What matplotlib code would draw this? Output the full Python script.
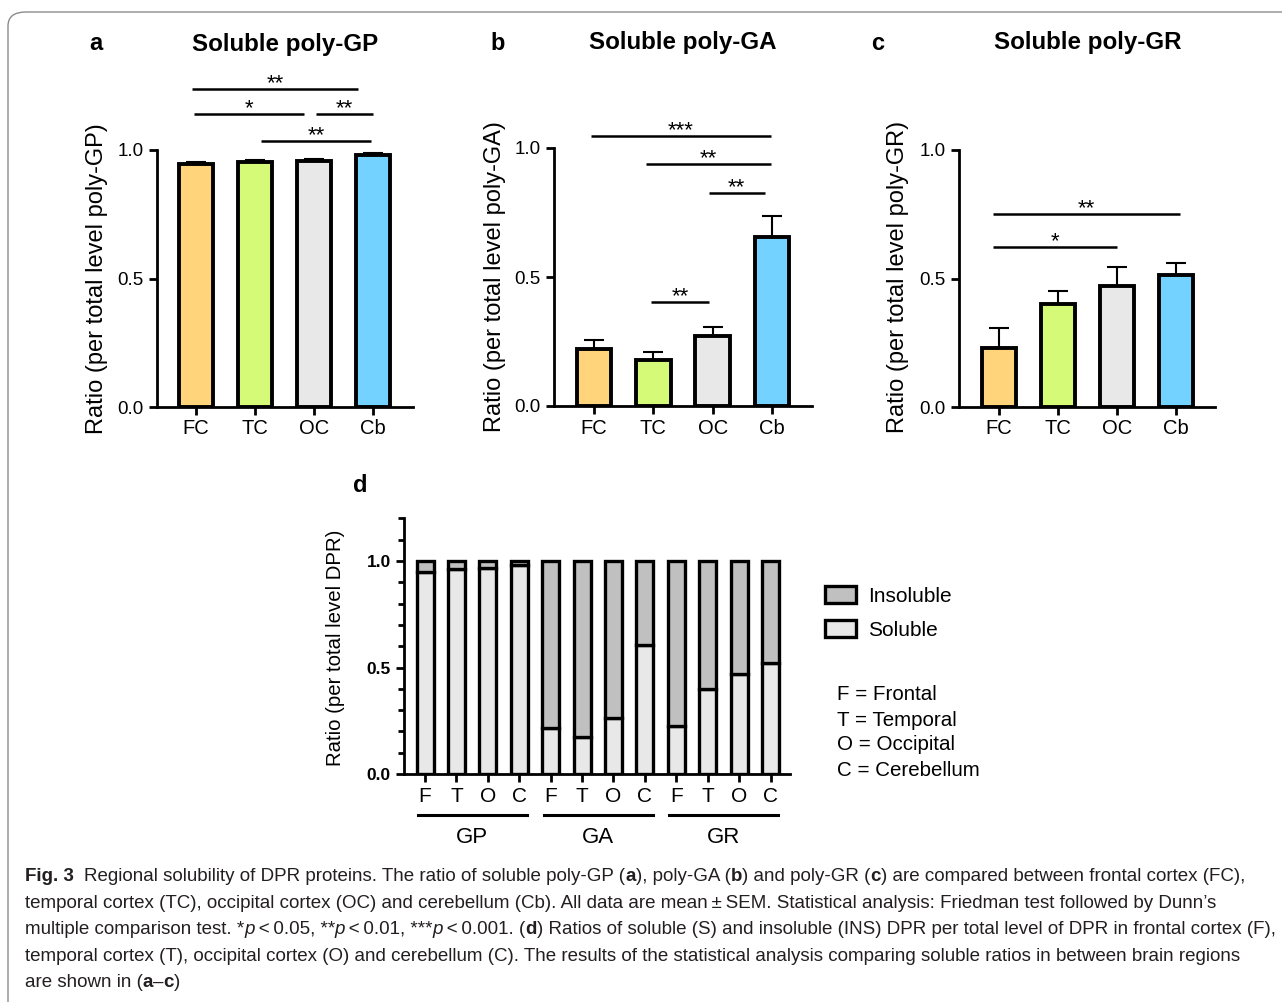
import numpy as np
import matplotlib
matplotlib.use('Agg')
import matplotlib.pyplot as plt
from matplotlib.patches import FancyBboxPatch

plt.rcParams['font.family'] = ['Liberation Sans', 'DejaVu Sans']

W, H = 1282, 1002

regions = ['FC', 'TC', 'OC', 'Cb']
bar_colors = ['#ffd47a', '#d5fa78', '#e8e8e8', '#73d2ff']

# soluble fraction, mean and SEM
gp_mean = [0.945, 0.954, 0.958, 0.980]
gp_sem = [0.008, 0.007, 0.006, 0.007]
ga_mean = [0.221, 0.178, 0.271, 0.655]
ga_sem = [0.035, 0.031, 0.035, 0.081]
gr_mean = [0.230, 0.400, 0.471, 0.514]
gr_sem = [0.077, 0.051, 0.074, 0.046]

# significance lines: (x start, x end, height, stars)
gp_sig = [(-0.07, 2.75, 1.237, '**'), (-0.03, 1.83, 1.14, '*'),
          (2.03, 3.0, 1.14, '**'), (1.1, 2.97, 1.035, '**')]
ga_sig = [(-0.05, 2.98, 1.047, '***'), (0.88, 2.98, 0.938, '**'),
          (1.93, 2.88, 0.826, '**'), (0.97, 1.93, 0.403, '**')]
gr_sig = [(-0.1, 3.07, 0.751, '**'), (-0.1, 2.0, 0.623, '*')]

# panel d
dpr_groups = ['GP', 'GA', 'GR']
dpr_regions = ['F', 'T', 'O', 'C']
dpr_soluble = [0.948, 0.962, 0.967, 0.981,
               0.216, 0.174, 0.263, 0.606,
               0.225, 0.399, 0.469, 0.521]
region_names = ['F = Frontal', 'T = Temporal', 'O = Occipital', 'C = Cerebellum']

fig = plt.figure(figsize=(W / 100, H / 100), dpi=100)


def fx(px):
    return px / W


def fy(py):
    return 1 - py / H


def make_axes(left, right, y0, ppu, ymax):
    return fig.add_axes([left / W, 1 - y0 / H, (right - left) / W, ppu * ymax / H])


def style_axes(ax):
    for s in ['top', 'right']:
        ax.spines[s].set_visible(False)
    for s in ['left', 'bottom']:
        ax.spines[s].set_linewidth(2.0)
    ax.tick_params(axis='both', width=2.0, length=6, color='black')


def soluble_panel(ax, means, sems, sig, xlim):
    x = np.arange(len(regions))
    ax.bar(x, means, width=0.58, color=bar_colors, edgecolor='black', linewidth=2.8, zorder=3)
    ax.errorbar(x, means, yerr=(np.zeros(len(sems)), sems), fmt='none', ecolor='black',
                elinewidth=1.5, capsize=7.5, capthick=1.5, zorder=2)
    ax.set_xlim(*xlim)
    ax.set_ylim(0, 1.32)
    style_axes(ax)
    ax.spines['left'].set_bounds(0, 1)
    ax.set_yticks([0, 0.5, 1.0])
    ax.set_yticklabels(['0.0', '0.5', '1.0'], fontsize=13.5)
    ax.set_xticks(x)
    ax.set_xticklabels(regions, fontsize=14.5)
    ax.tick_params(axis='x', pad=3)
    for x1, x2, y, s in sig:
        ax.plot([x1, x2], [y, y], color='black', lw=1.8, clip_on=False, solid_capstyle='butt')
        ax.annotate(s, xy=((x1 + x2) / 2, y), xytext=(0, 0.0), textcoords='offset points',
                    ha='center', va='baseline', fontsize=16, annotation_clip=False)


ax_a = make_axes(157, 413, 407, 257, 1.32)
soluble_panel(ax_a, gp_mean, gp_sem, gp_sig, (-0.66, 3.68))
ax_b = make_axes(554, 812, 406, 258, 1.32)
soluble_panel(ax_b, ga_mean, ga_sem, ga_sig, (-0.67, 3.67))
ax_c = make_axes(959, 1215, 407, 257, 1.32)
soluble_panel(ax_c, gr_mean, gr_sem, gr_sig, (-0.68, 3.66))

# panel titles, letters and y labels
for letter, lx, ly, title, tx, ty, ylab, yx, yy in [
        ('a', 96, 44, 'Soluble poly-GP', 285, 45, 'Ratio (per total level poly-GP)', 97, 279),
        ('b', 498, 43, 'Soluble poly-GA', 683, 42, 'Ratio (per total level poly-GA)', 495, 277),
        ('c', 878, 43, 'Soluble poly-GR', 1088, 43, 'Ratio (per total level poly-GR)', 898, 277)]:
    fig.text(fx(lx), fy(ly), letter, fontsize=17, fontweight='bold', ha='center', va='center')
    fig.text(fx(tx), fy(ty), title, fontsize=17.4, fontweight='bold', ha='center', va='center')
    fig.text(fx(yx), fy(yy), ylab, fontsize=17, rotation=90, ha='center', va='center')

# panel d: stacked soluble / insoluble
ax_d = make_axes(404, 790, 774, 213, 1.2)
xd = np.arange(len(dpr_soluble))
sol = np.array(dpr_soluble)
sol_bars = ax_d.bar(xd, sol, width=0.54, color='#e8e8e8', edgecolor='black', linewidth=2.4, zorder=3)
ins_bars = ax_d.bar(xd, 1 - sol, bottom=sol, width=0.54, color='#c0c0c0', edgecolor='black',
                    linewidth=2.4, zorder=3)
ax_d.set_xlim(-0.67, 11.62)
ax_d.set_ylim(0, 1.2)
style_axes(ax_d)
ax_d.set_yticks([0, 0.5, 1.0])
ax_d.set_yticklabels(['0.0', '0.5', '1.0'], fontsize=12.5, fontweight='bold')
ax_d.set_yticks(np.arange(0, 1.21, 0.1), minor=True)
ax_d.tick_params(axis='y', which='minor', width=2.0, length=4)
ax_d.set_xticks(xd)
ax_d.set_xticklabels(dpr_regions * len(dpr_groups), fontsize=15)
ax_d.tick_params(axis='x', pad=3)
for g, name in enumerate(dpr_groups):
    ax_d.plot([4 * g - 0.22, 4 * g + 3.25], [-0.16, -0.16], color='black', lw=2.2,
              transform=ax_d.get_xaxis_transform(), clip_on=False)
    ax_d.text(4 * g + 1.5, -0.25, name, fontsize=16, ha='center', va='center',
              transform=ax_d.get_xaxis_transform())
fig.text(fx(360), fy(485), 'd', fontsize=17, fontweight='bold', ha='center', va='center')
fig.text(fx(335), fy(648), 'Ratio (per total level DPR)', fontsize=14.7, rotation=90,
         ha='center', va='center')

ax_d.legend([ins_bars, sol_bars], ['Insoluble', 'Soluble'], loc='upper left',
            bbox_to_anchor=(fx(806), fy(567)), bbox_transform=fig.transFigure, frameon=False,
            fontsize=15, handlelength=1.5, handleheight=0.9, handletextpad=0.6, labelspacing=0.7)
for i, s in enumerate(region_names):
    fig.text(fx(837), fy(695 + 25 * i), s, fontsize=14.8, ha='left', va='center')

# caption
cap_font = ['Liberation Sans Narrow', 'Liberation Sans']
cap_size = 13.5
caption = [
    [('Fig. 3', 'bold', 'normal'),
     ('  Regional solubility of DPR proteins. The ratio of soluble poly-GP (', 'normal', 'normal'),
     ('a', 'bold', 'normal'), ('), poly-GA (', 'normal', 'normal'), ('b', 'bold', 'normal'),
     (') and poly-GR (', 'normal', 'normal'), ('c', 'bold', 'normal'),
     (') are compared between frontal cortex (FC),', 'normal', 'normal')],
    [('temporal cortex (TC), occipital cortex (OC) and cerebellum (Cb). All data are mean\u2009\u00b1\u2009SEM. '
      'Statistical analysis: Friedman test followed by Dunn\u2019s', 'normal', 'normal')],
    [('multiple comparison test. *', 'normal', 'normal'), ('p', 'normal', 'italic'),
     ('\u2009<\u20090.05, **', 'normal', 'normal'), ('p', 'normal', 'italic'),
     ('\u2009<\u20090.01, ***', 'normal', 'normal'), ('p', 'normal', 'italic'),
     ('\u2009<\u20090.001. (', 'normal', 'normal'), ('d', 'bold', 'normal'),
     (') Ratios of soluble (S) and insoluble (INS) DPR per total level of DPR in frontal cortex (F),',
      'normal', 'normal')],
    [('temporal cortex (T), occipital cortex (O) and cerebellum (C). The results of the statistical '
      'analysis comparing soluble ratios in between brain regions', 'normal', 'normal')],
    [('are shown in (', 'normal', 'normal'), ('a', 'bold', 'normal'), ('\u2013', 'normal', 'normal'),
     ('c', 'bold', 'normal'), (')', 'normal', 'normal')],
]
caption_y = [881, 908, 934, 961, 987]

renderer = fig.canvas.get_renderer()


def text_width(s, weight, style):
    t = fig.text(0, 0, s, fontsize=cap_size, fontweight=weight, fontstyle=style, family=cap_font)
    w = t.get_window_extent(renderer).width
    t.remove()
    return w


space_w = text_width('x x', 'normal', 'normal') - text_width('xx', 'normal', 'normal')

for segs, py in zip(caption, caption_y):
    px = 25
    for s, weight, style in segs:
        lead = len(s) - len(s.lstrip(' '))
        trail = len(s) - len(s.rstrip(' '))
        core = s.strip(' ')
        px += lead * space_w
        fig.text(fx(px), fy(py), core, fontsize=cap_size, fontweight=weight, fontstyle=style,
                 family=cap_font, color='#231f20', ha='left', va='baseline')
        px += text_width(core, weight, style) + trail * space_w

# rounded frame
frame = FancyBboxPatch((fx(8), -0.05), 1.1, fy(12) + 0.05, boxstyle='round,pad=0,rounding_size=0.014',
                       transform=fig.transFigure, facecolor='none', edgecolor='#8c8c8c', lw=1.0,
                       clip_on=False)
fig.patches.append(frame)

fig.savefig('out.png', dpi=100)
